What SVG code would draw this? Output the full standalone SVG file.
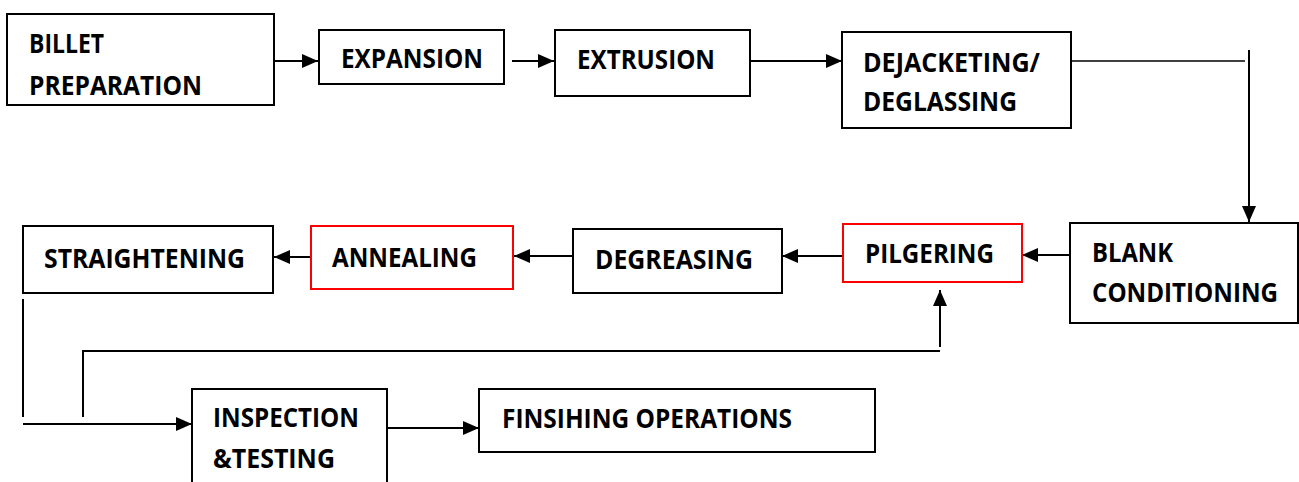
<svg xmlns="http://www.w3.org/2000/svg" width="1299" height="482" viewBox="0 0 1299 482">
  <style>
    .box { fill: #ffffff; stroke: #000000; stroke-width: 2; }
    .hot { fill: #ffffff; stroke: #ff0000; stroke-width: 2; }
    .lbl { font-family: "Open Sans", "Liberation Sans", sans-serif; font-weight: 700; font-size: 26px; fill: #000000; }
    .wire { fill: none; stroke: #000000; stroke-width: 2; }
    .thin { fill: none; stroke: #000000; stroke-width: 1.5; }
  </style>
  <defs>
    <marker id="arrow" markerUnits="userSpaceOnUse" markerWidth="16" markerHeight="14" refX="16" refY="7" orient="auto">
      <path d="M0,0 L16,7 L0,14 Z" fill="#000000"/>
    </marker>
  </defs>

  <rect width="1299" height="482" fill="#ffffff"/>

  <g id="connectors">
    <line class="wire" x1="274" y1="61" x2="318" y2="61" marker-end="url(#arrow)"/>
    <line class="wire" x1="512" y1="61" x2="554" y2="61" marker-end="url(#arrow)"/>
    <line class="wire" x1="750" y1="61" x2="842" y2="61" marker-end="url(#arrow)"/>
    <line class="thin" x1="1071" y1="61" x2="1245" y2="61"/>
    <line class="wire" x1="1249" y1="50" x2="1249" y2="222" marker-end="url(#arrow)"/>
    <line class="wire" x1="1070" y1="255" x2="1022" y2="255" marker-end="url(#arrow)"/>
    <line class="wire" x1="843" y1="256" x2="782" y2="256" marker-end="url(#arrow)"/>
    <line class="wire" x1="573" y1="256" x2="514" y2="256" marker-end="url(#arrow)"/>
    <line class="wire" x1="311" y1="257" x2="274" y2="257" marker-end="url(#arrow)"/>
    <line class="wire" x1="23" y1="299" x2="23" y2="417"/>
    <line class="wire" x1="23" y1="424" x2="192" y2="424" marker-end="url(#arrow)"/>
    <polyline class="wire" points="83,417 83,351 940,351"/>
    <line class="wire" x1="940" y1="347" x2="940" y2="290" marker-end="url(#arrow)"/>
    <line class="wire" x1="383" y1="428" x2="479" y2="428" marker-end="url(#arrow)"/>
  </g>

  <g id="billet-preparation">
    <rect class="box" x="7" y="14" width="267" height="91"/>
    <text class="lbl" x="29" y="53" textLength="75" lengthAdjust="spacingAndGlyphs">BILLET</text>
    <text class="lbl" x="29" y="95" textLength="173" lengthAdjust="spacingAndGlyphs">PREPARATION</text>
  </g>

  <g id="expansion">
    <rect class="box" x="319" y="30" width="185" height="54"/>
    <text class="lbl" x="341" y="68" textLength="142" lengthAdjust="spacingAndGlyphs">EXPANSION</text>
  </g>

  <g id="extrusion">
    <rect class="box" x="555" y="30" width="195" height="66"/>
    <text class="lbl" x="577" y="69" textLength="138" lengthAdjust="spacingAndGlyphs">EXTRUSION</text>
  </g>

  <g id="dejacketing">
    <rect class="box" x="842" y="32" width="229" height="96"/>
    <text class="lbl" x="863" y="72" textLength="177" lengthAdjust="spacingAndGlyphs">DEJACKETING/</text>
    <text class="lbl" x="863" y="111" textLength="154" lengthAdjust="spacingAndGlyphs">DEGLASSING</text>
  </g>

  <g id="blank-conditioning">
    <rect class="box" x="1070" y="223" width="228" height="100"/>
    <text class="lbl" x="1092" y="262" textLength="81" lengthAdjust="spacingAndGlyphs">BLANK</text>
    <text class="lbl" x="1092" y="302" textLength="186" lengthAdjust="spacingAndGlyphs">CONDITIONING</text>
  </g>

  <g id="pilgering">
    <rect class="hot" x="843" y="224" width="179" height="58"/>
    <text class="lbl" x="865" y="263" textLength="129" lengthAdjust="spacingAndGlyphs">PILGERING</text>
  </g>

  <g id="degreasing">
    <rect class="box" x="573" y="229" width="209" height="64"/>
    <text class="lbl" x="595" y="269" textLength="158" lengthAdjust="spacingAndGlyphs">DEGREASING</text>
  </g>

  <g id="annealing">
    <rect class="hot" x="311" y="226" width="202" height="63"/>
    <text class="lbl" x="332" y="267" textLength="145" lengthAdjust="spacingAndGlyphs">ANNEALING</text>
  </g>

  <g id="straightening">
    <rect class="box" x="23" y="226" width="250" height="67"/>
    <text class="lbl" x="44" y="268" textLength="201" lengthAdjust="spacingAndGlyphs">STRAIGHTENING</text>
  </g>

  <g id="inspection-testing">
    <rect class="box" x="192" y="389" width="195" height="100"/>
    <text class="lbl" x="213" y="427" textLength="146" lengthAdjust="spacingAndGlyphs">INSPECTION</text>
    <text class="lbl" x="213" y="468" textLength="122" lengthAdjust="spacingAndGlyphs">&amp;TESTING</text>
  </g>

  <g id="finishing-operations">
    <rect class="box" x="479" y="389" width="396" height="63"/>
    <text class="lbl" x="502" y="428" textLength="290" lengthAdjust="spacingAndGlyphs">FINSIHING OPERATIONS</text>
  </g>
</svg>
